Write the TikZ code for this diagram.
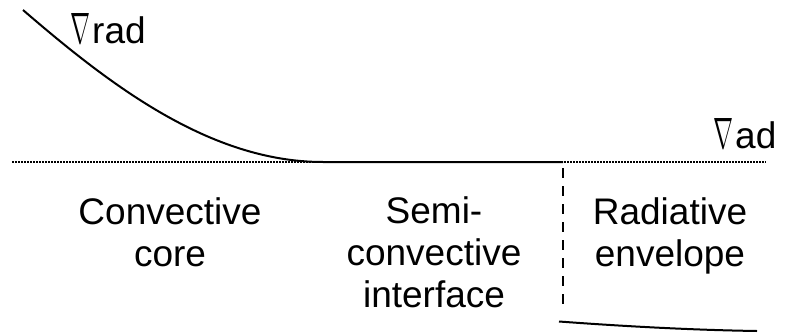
\documentclass[tikz,border=0pt]{standalone}
\usepackage{fontspec}
\setmainfont{Liberation Sans}
\newcommand{\gradsym}{\resizebox{20pt}{30pt}{$\nabla$}\kern2pt}
\begin{document}
\begin{tikzpicture}[x=1pt,y=-1pt,
  curve/.style={line width=2pt},
  adline/.style={line width=2pt, dash pattern=on 2pt off 1pt},
  boundary/.style={line width=1.5pt, dash pattern=on 10pt off 8pt},
  zone/.style={font=\fontsize{37}{42}\selectfont, align=center, anchor=base, inner sep=0pt},
  grad/.style={font=\fontsize{37}{42}\selectfont, anchor=base west, inner sep=0pt}]
\useasboundingbox (0,0) rectangle (795,332);

% gradients
\coordinate (adL) at (12,162);
\coordinate (adR) at (766,162);
\coordinate (rs) at (23,10);
\coordinate (touch) at (323,162);
\coordinate (edge) at (563,162);
\coordinate (dtop) at (563,168);
\coordinate (dbot) at (563,310);
\coordinate (envS) at (559,321.5);
\coordinate (envE) at (757,331);

\draw[adline] (adL) -- (adR);
\draw[curve] (rs) .. controls (110,85) and (210,162) .. (touch) -- (edge);
\draw[boundary] (dtop) -- (dbot);
\draw[curve] (envS) .. controls (620,326) and (690,330) .. (envE);

\node[grad] (rad) at (70,43) {\gradsym rad};
\node[grad] (ad) at (713,148) {\gradsym ad};

% zones (anchored at the baseline of their last line)
\node[zone] (core) at (170,266) {Convective\\core};
\node[zone] (semi) at (434,307) {Semi-\\convective\\interface};
\node[zone] (env) at (670,266) {Radiative\\envelope};
\end{tikzpicture}
\end{document}
